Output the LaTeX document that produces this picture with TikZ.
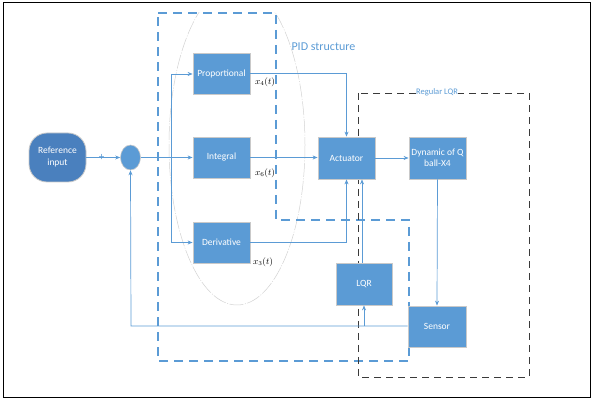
\documentclass[tikz,border=0pt]{standalone}
\usepackage{fontspec}
\setmainfont{Carlito}
\usetikzlibrary{arrows.meta,shapes.geometric}
\definecolor{boxblue}{HTML}{5B9BD5}
\definecolor{refblue}{HTML}{4A80BE}
\definecolor{boxedge}{HTML}{C9C9C9}
\definecolor{frameblack}{HTML}{3A3A3A}
\tikzset{
  block/.style={draw=boxedge, line width=0.8pt, fill=boxblue, text=white,
    minimum width=57pt, minimum height=41pt, inner sep=1pt, align=center,
    font=\fontsize{9.5}{11.5}\selectfont},
  conn/.style={draw=boxblue, line width=0.7pt},
  arr/.style={conn, -{Stealth[length=5pt,width=4pt]}},
  statelabel/.style={font=\fontsize{9}{10}\selectfont, inner sep=0pt},
  pidframe/.style={draw=boxblue, line width=2pt, dash pattern=on 9pt off 6pt},
  lqrframe/.style={draw=frameblack, line width=0.8pt, dash pattern=on 7pt off 5pt},
}
\begin{document}
\begin{tikzpicture}[x=1pt, y=-1pt]
\useasboundingbox (0,0) rectangle (592,403);
% outer frame
\draw[line width=0.9pt] (3,2) rectangle (590,397);

% grey ellipse around the PID branches
\begin{scope}
  \clip (0,13) rectangle (592,403);
  \draw[gray!35, line width=0.5pt, dash pattern=on 14pt off 1.5pt on 1pt off 1.5pt]
    (237,145) ellipse [x radius=68, y radius=160];
\end{scope}

% PID structure frame
\draw[pidframe] (158,13) -- (276,13) -- (276,220) -- (409,220) -- (409,361) -- (158,361) -- cycle;
\node[text=boxblue, font=\fontsize{12}{14}\selectfont, anchor=west] (pidlabel) at (288,47) {PID structure};

% Regular LQR frame
\draw[lqrframe] (358,93) rectangle (529,377);
\node[text=boxblue, fill=white, inner sep=0.5pt, font=\fontsize{8.5}{9}\selectfont] (lqrlabel) at (437,92) {Regular LQR};

% blocks
\node[draw=boxedge, line width=0.8pt, fill=refblue, text=white, rounded corners=18pt,
  minimum width=57pt, minimum height=49pt, align=center, inner sep=1pt,
  font=\fontsize{9.5}{12}\selectfont] (ref) at (57.5,157.5) {Reference\\input};
\node[draw=boxedge, line width=0.6pt, fill=boxblue, ellipse, minimum width=20pt, minimum height=25pt, inner sep=0pt] (sum) at (130.5,157.5) {};
\node[block] (prop) at (221.5,74) {Proportional};
\node[block] (integ) at (221.5,157.5) {Integral};
\node[block] (deriv) at (221.5,242.5) {Derivative};
\node[block, minimum height=42pt] (act) at (346.5,158) {Actuator};
\node[block, minimum height=42pt] (dyn) at (437.5,158) {Dynamic of Q\\ball-X4};
\node[block, minimum width=56pt, minimum height=42pt] (lqr) at (364,284) {LQR};
\node[block, minimum width=58pt] (sensor) at (437,326.5) {Sensor};

% state labels
\node[statelabel] (x4) at (265,82) {$x_4(t)$};
\node[statelabel] (x6) at (265,173) {$x_6(t)$};
\node[statelabel] (x3) at (263,262) {$x_3(t)$};

% connectors
\coordinate (split) at (171,157.5);
\coordinate (fbcorner) at (131,326);
\draw[arr] (ref.east) -- node[pos=0.45, text=boxblue, inner sep=0pt, font=\fontsize{11}{11}\selectfont] (plus) {+} (sum.west);
\draw[arr] (sum.east) -- (integ.west);
\draw[arr] (split) |- (prop.west);
\draw[arr] (split) |- (deriv.west);
\draw[arr] (prop.east |- 0,73) -| (act.north);
\draw[arr] (integ.east) -- (act.west |- integ.east);
\draw[arr] (deriv.east) -| (act.south);
\draw[arr] (act.east) -- (dyn.west);
\draw[arr] (dyn.south) -- (sensor.north);
\draw[arr] (sensor.west |- fbcorner) -- (fbcorner) -- (sum.south);
\draw[arr] (lqr.south |- fbcorner) -- (lqr.south);
\draw[arr] (lqr.north -| 362,0) -- (act.south -| 362,0);
\end{tikzpicture}
\end{document}
